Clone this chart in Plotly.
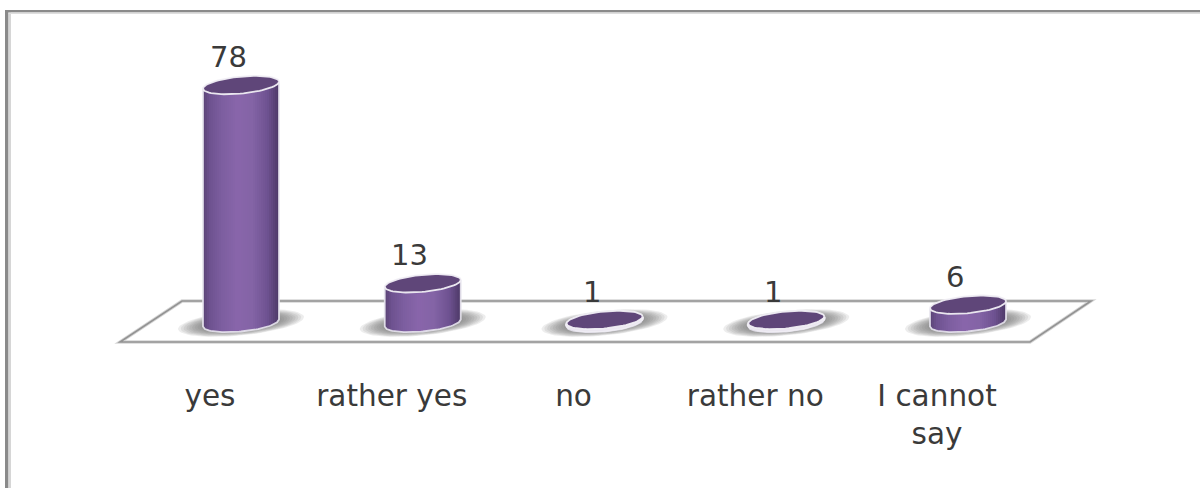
import numpy as np
import plotly.graph_objects as go

# Survey answers and their counts
categories = ["yes", "rather yes", "no", "rather no", "I cannot<br>say"]
values = [78, 13, 1, 1, 6]

WIDTH, HEIGHT = 1200, 488
FONT = "DejaVu Sans"
TEXT = "#3a3a3a"

# Axis scale: pixels per category step / per unit of value
STEP = 181.75
UNIT = 3.05
X0 = 241.0   # pixel column of the first category
Y0 = 323.0   # pixel row of value zero

# Cylinder shape, in pixels
A = 38.0     # half width
B = 8.5      # half height of the end ellipses
S = 3.5      # tilt of the end ellipses

# Shading across the cylinder, left edge to right edge
SHADE_U = [-1.0, -0.82, -0.5, -0.1, 0.3, 0.7, 0.9, 1.0]
SHADE_RGB = [
    (92, 68, 119), (110, 82, 144), (125, 94, 160), (137, 102, 171),
    (132, 100, 166), (110, 82, 145), (88, 65, 116), (78, 58, 104),
]
N_STRIPS = 38


def dx(px):
    return px / STEP


def dy(px):
    return px / UNIT


def ellipse(cx, cy, a, b, s, n=72):
    """Tilted ellipse round (cx, cy) in axis units; sizes in pixels, y grows upward."""
    t = np.linspace(0, 2 * np.pi, n)
    return cx + dx(a * np.cos(t)), cy - dy(b * np.sin(t) - s * np.cos(t))


def lower_arc(u):
    """Pixel drop of the front rim below the ellipse centre at position u in [-1, 1]."""
    return B * np.sqrt(np.clip(1 - u ** 2, 0, 1)) - S * u


fig = go.Figure()

# Soft shadows on the floor, built from stacked translucent ellipses
for scale in np.linspace(1.0, 0.6, 10):
    xs, ys = [], []
    for i in range(len(values)):
        ex, ey = ellipse(i, 0, 63 * scale, 12.5 * scale, 6 * scale)
        xs += list(ex) + [None]
        ys += list(ey) + [None]
    fig.add_trace(go.Scatter(x=xs, y=ys, mode="lines", fill="toself", line=dict(width=0),
                             fillcolor="rgba(105,105,105,0.12)", hoverinfo="skip", showlegend=False))

# Cylinder core carrying the values
fig.add_trace(go.Bar(x=list(range(len(values))), y=values, width=dx(A * 1.45),
                     marker=dict(color="#7d5ea0", line=dict(width=0)),
                     hoverinfo="skip", showlegend=False))

# Shaded side of each cylinder, one vertical strip per shade
edges = np.linspace(-1, 1, N_STRIPS + 1)
for k in range(N_STRIPS):
    u0, u1 = edges[k], min(edges[k + 1] + 0.03, 1.0)
    mid = 0.5 * (edges[k] + edges[k + 1])
    rgb = [np.interp(mid, SHADE_U, [c[j] for c in SHADE_RGB]) for j in range(3)]
    xs, ys = [], []
    for i, v in enumerate(values):
        us = [u0, u1, u1, u0, u0]
        tops = [v - dy(lower_arc(u0)), v - dy(lower_arc(u1))]
        bots = [-dy(lower_arc(u1)), -dy(lower_arc(u0))]
        xs += [i + dx(A * u) for u in us] + [None]
        ys += tops + bots + [tops[0], None]
    fig.add_trace(go.Scatter(x=xs, y=ys, mode="lines", fill="toself", line=dict(width=0),
                             fillcolor="rgb(%d,%d,%d)" % tuple(rgb),
                             hoverinfo="skip", showlegend=False))

# Pale rim along the sides and the bottom of every cylinder
rim_u = np.linspace(1, -1, 41)
xs, ys = [], []
for i, v in enumerate(values):
    xs += [i + dx(A)] + list(i + dx(A * rim_u)) + [i - dx(A), None]
    ys += [v - dy(lower_arc(1.0))] + list(-dy(lower_arc(rim_u))) + [v - dy(lower_arc(-1.0)), None]
fig.add_trace(go.Scatter(x=xs, y=ys, mode="lines", line=dict(color="rgba(232,230,238,0.9)", width=1.8),
                         hoverinfo="skip", showlegend=False))

# Very short cylinders: the side is lost inside the pale rim
xs, ys = [], []
for i, v in enumerate(values):
    if v * UNIT < 4:
        ex, ey = ellipse(i, v / 2, A + 1.5, B + 2, S)
        xs += list(ex) + [None]
        ys += list(ey) + [None]
fig.add_trace(go.Scatter(x=xs, y=ys, mode="lines", fill="toself", line=dict(width=0),
                         fillcolor="rgba(240,238,244,0.95)", hoverinfo="skip", showlegend=False))

# Darker top caps with a white edge
xs, ys = [], []
for i, v in enumerate(values):
    ex, ey = ellipse(i, v, A, B, S)
    xs += list(ex) + [None]
    ys += list(ey) + [None]
fig.add_trace(go.Scatter(x=xs, y=ys, mode="lines", fill="toself",
                         line=dict(color="rgba(240,238,244,0.95)", width=1.8),
                         fillcolor="#5f4679", hoverinfo="skip", showlegend=False))


def px_path(points):
    """SVG path in paper fractions from pixel points."""
    parts = ["%s%.5f,%.5f" % ("M" if n == 0 else "L", p[0] / WIDTH, 1 - p[1] / HEIGHT)
             for n, p in enumerate(points)]
    return " ".join(parts)


def px_rect(x0, y0, x1, y1, color):
    return dict(type="rect", xref="paper", yref="paper", layer="below", line=dict(width=0),
                fillcolor=color, x0=x0 / WIDTH, x1=x1 / WIDTH,
                y0=1 - y0 / HEIGHT, y1=1 - y1 / HEIGHT)


floor = [(120, 342), (1030, 342), (1091, 301), (182, 301)]
shapes = [
    # Outer frame: left and top edges with a soft inner falloff
    px_rect(5, 10, 8.5, HEIGHT, "#8a8a8a"),
    px_rect(8.5, 12, 11, HEIGHT, "#d6d6d6"),
    px_rect(5, 10, WIDTH, 12.5, "#8a8a8a"),
    px_rect(8.5, 12.5, WIDTH, 14, "#dedede"),
    # Chart floor
    dict(type="path", xref="paper", yref="paper", layer="below",
         path=px_path(floor) + " Z", fillcolor="white",
         line=dict(color="rgba(150,150,150,0.4)", width=3.4)),
    dict(type="path", xref="paper", yref="paper", layer="below",
         path=px_path(floor) + " Z", line=dict(color="#939393", width=1.6)),
]

# Value labels above the caps
annotations = [
    dict(x=i, y=v, xref="x", yref="y", text=str(v), showarrow=False, xshift=-13, yshift=9,
         xanchor="center", yanchor="bottom", font=dict(family=FONT, size=29, color=TEXT))
    for i, v in enumerate(values)
]

LABEL_SHIFT = 31.0  # category labels sit a little to the left of their cylinders

fig.update_layout(
    width=WIDTH, height=HEIGHT,
    margin=dict(l=0, r=0, t=0, b=0),
    paper_bgcolor="white", plot_bgcolor="rgba(0,0,0,0)",
    barmode="overlay", showlegend=False,
    shapes=shapes, annotations=annotations,
    xaxis=dict(
        range=[-X0 / STEP, (WIDTH - X0) / STEP],
        tickmode="array",
        tickvals=[i - dx(LABEL_SHIFT) for i in range(len(categories))],
        ticktext=categories,
        tickangle=0,
        tickfont=dict(family=FONT, size=29.5, color=TEXT),
        showgrid=False, zeroline=False, showline=False, ticks="",
        anchor="free", position=1 - 375 / HEIGHT,
    ),
    yaxis=dict(
        range=[(Y0 - HEIGHT) / UNIT, Y0 / UNIT],
        domain=[0, 1], visible=False, showgrid=False, zeroline=False,
    ),
)

fig.write_html("out.html", config={"displayModeBar": False})
